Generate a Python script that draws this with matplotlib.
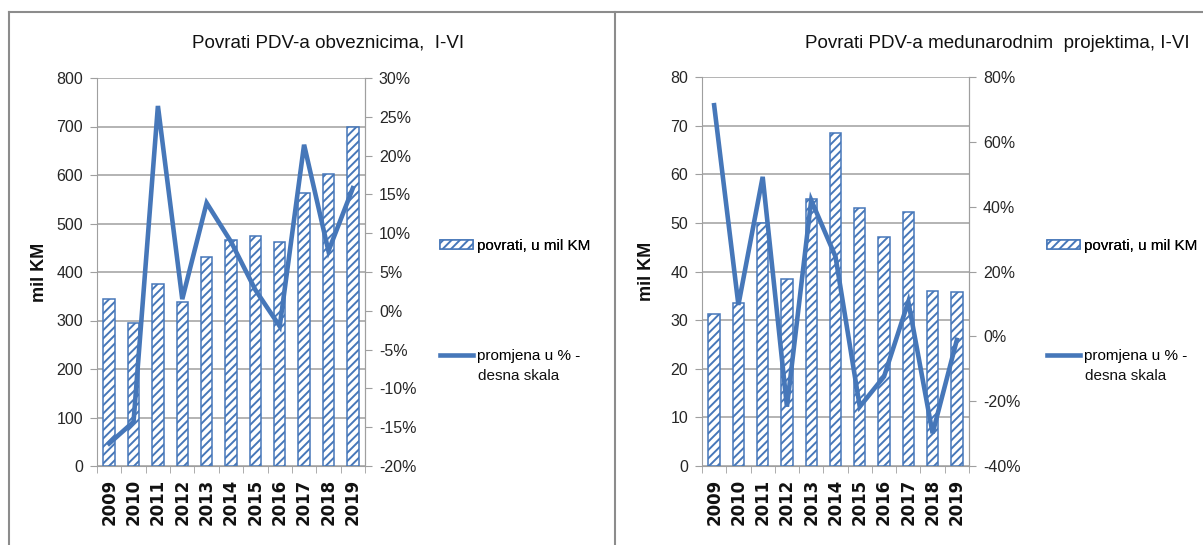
import matplotlib
matplotlib.use("Agg")
import matplotlib.pyplot as plt
from matplotlib.lines import Line2D
from matplotlib.ticker import FixedLocator
import numpy as np

plt.rcParams['font.family'] = ['Liberation Sans', 'DejaVu Sans']
plt.rcParams['hatch.linewidth'] = 1.4

years = ['2009', '2010', '2011', '2012', '2013', '2014', '2015', '2016', '2017', '2018', '2019']

# Left chart: Povrati PDV-a obveznicima
left_refunds = [345, 295, 375, 338, 430, 465, 475, 462, 563, 603, 700]
left_change = [-17.1, -14.3, 26.4, 1.5, 13.9, 8.9, 2.7, -2.0, 21.4, 7.7, 15.8]

# Right chart: Povrati PDV-a medunarodnim projektima
right_refunds = [31.2, 33.5, 50.0, 38.4, 55.0, 68.4, 53.0, 47.1, 52.3, 36.0, 35.7]
right_change = [71.3, 9.7, 49.2, -21.7, 42.0, 24.6, -21.7, -12.4, 10.7, -29.9, -1.1]

left_title = 'Povrati PDV-a obveznicima,  I-VI'
right_title = 'Povrati PDV-a medunarodnim  projektima, I-VI'
bar_label = 'povrati, u mil KM'
line_label1 = 'promjena u % -'
line_label2 = 'desna skala'
ylabel = 'mil KM'

BLUE = '#4677b9'
GRID = '#9f9f9f'
TXT = '#262626'

W, H = 1203, 545
fig = plt.figure(figsize=(W / 100, H / 100), dpi=100)


def px(x0, y0, x1, y1):
    return [x0 / W, 1 - y1 / H, (x1 - x0) / W, (y1 - y0) / H]


def draw(rect, refunds, change, ymax, ystep, rmin, rmax, rstep, title, title_x,
         ylab_x, leg_x):
    ax = fig.add_axes(rect)
    x = np.arange(len(years))
    bars = ax.bar(x, refunds, width=0.47, color='white', edgecolor=BLUE,
                  hatch='////', linewidth=1.1, zorder=2)
    ax.set_xlim(-0.5, len(years) - 0.5)
    ax.set_ylim(0, ymax)
    ax.set_yticks(np.arange(0, ymax + ystep / 2, ystep))
    ax.yaxis.grid(True, color=GRID, linewidth=1.1, zorder=0)
    ax.set_axisbelow(True)
    ax.spines['top'].set_visible(False)
    for s in ['left', 'bottom', 'right']:
        ax.spines[s].set_color(GRID)
    ax.tick_params(axis='y', colors=GRID, labelcolor=TXT, labelsize=11.5,
                   length=5, direction='out', pad=5)
    ax.set_xticks(x)
    ax.set_xticklabels(years, rotation=90, fontsize=12, fontweight='bold',
                       family='DejaVu Sans', color='#111111')
    ax.tick_params(axis='x', length=0, pad=9)
    ax.xaxis.set_minor_locator(FixedLocator(np.arange(-0.5, len(years), 1.0)))
    ax.tick_params(axis='x', which='minor', length=5, color=GRID)
    ax.set_ylabel(ylabel, fontsize=13, fontweight='bold', color='#111111')
    ax.yaxis.set_label_coords(ylab_x, 0.5)

    ax2 = ax.twinx()
    line, = ax2.plot(x, change, color=BLUE, linewidth=3.3, solid_joinstyle='miter',
                     zorder=3)
    ax2.set_ylim(rmin, rmax)
    ticks = np.arange(rmin, rmax + rstep / 2, rstep)
    ax2.set_yticks(ticks)
    ax2.set_yticklabels([f'{int(v)}%' for v in ticks])
    for s in ['top', 'left', 'bottom']:
        ax2.spines[s].set_visible(False)
    ax2.spines['right'].set_color(GRID)
    ax2.tick_params(axis='y', colors=GRID, labelcolor=TXT, labelsize=11.5,
                    length=5, direction='out', pad=5)

    fig.text(title_x / W, 1 - 43 / H, title, ha='center', va='center',
             fontsize=13.5, color='#111111')

    leg1 = fig.legend([bars], [bar_label], loc='center left',
                      bbox_to_anchor=(leg_x / W, 1 - 246 / H), frameon=False,
                      fontsize=11, handlelength=2.15, handleheight=0.6,
                      handletextpad=0.3, borderpad=0, borderaxespad=0)
    fig.legend([line], [line_label1], loc='center left',
               bbox_to_anchor=(leg_x / W, 1 - 356 / H), frameon=False,
               fontsize=11, handlelength=2.15, handletextpad=0.3,
               borderpad=0, borderaxespad=0)
    fig.add_artist(leg1)
    fig.text((leg_x + 38) / W, 1 - 376 / H, line_label2, ha='left', va='center',
             fontsize=11, color='#111111')
    return ax


draw(px(97, 78, 365, 466), left_refunds, left_change, 800, 100, -20, 30, 5,
     left_title, 328, -0.183, 440)
draw(px(702, 77, 969, 466), right_refunds, right_change, 80, 10, -40, 80, 20,
     right_title, 997, -0.176, 1047)

# panel frame lines
for (x0, y0, x1, y1) in [(9, 12, W, 12), (9, 12, 9, H), (615, 12, 615, H)]:
    fig.add_artist(Line2D([x0 / W, x1 / W], [1 - y0 / H, 1 - y1 / H],
                          color='#8c8c8c', linewidth=1.5))

fig.savefig('out.png', dpi=100)
